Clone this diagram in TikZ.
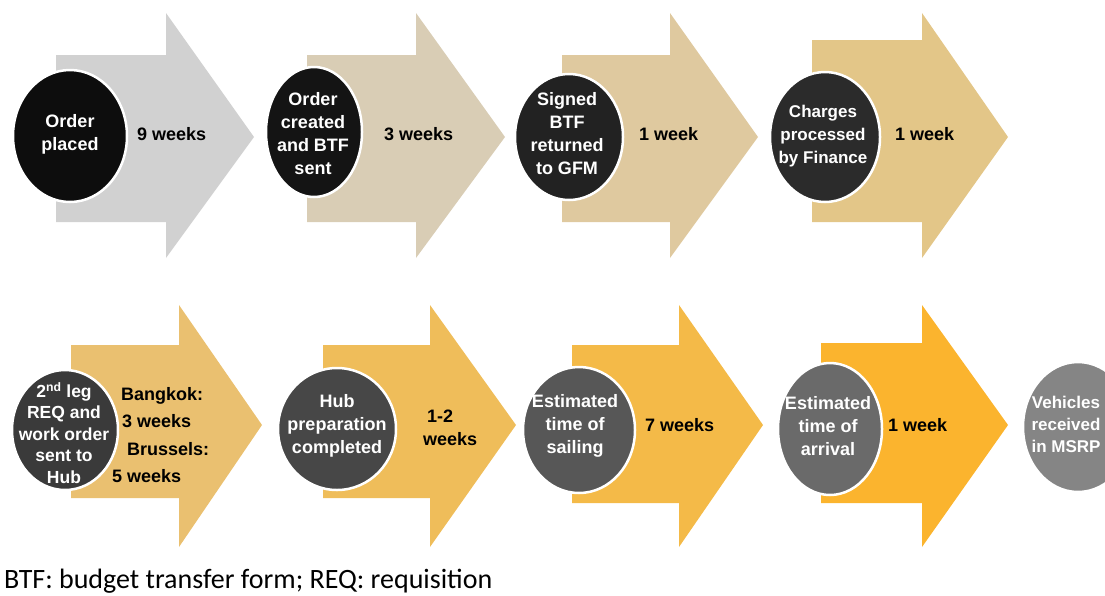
\documentclass[tikz,border=0pt]{standalone}
\usepackage{fontspec}
\setmainfont{Liberation Sans}
\newfontfamily\notefont{Carlito}

\definecolor{arrA}{HTML}{D1D1D1}
\definecolor{arrB}{HTML}{D9CDB5}
\definecolor{arrC}{HTML}{DFC99F}
\definecolor{arrD}{HTML}{E3C688}
\definecolor{arrE}{HTML}{EAC070}
\definecolor{arrF}{HTML}{EFBD5A}
\definecolor{arrG}{HTML}{F4BA48}
\definecolor{arrH}{HTML}{FBB42E}
\definecolor{dotA}{HTML}{0D0D0D}
\definecolor{dotB}{HTML}{141414}
\definecolor{dotC}{HTML}{222222}
\definecolor{dotD}{HTML}{2B2B2B}
\definecolor{dotE}{HTML}{3A3A3A}
\definecolor{dotF}{HTML}{474747}
\definecolor{dotG}{HTML}{575757}
\definecolor{dotH}{HTML}{6A6A6A}
\definecolor{dotI}{HTML}{858585}

\begin{document}
\begin{tikzpicture}[x=1pt,y=-1pt,
    ring/.style={draw=white,line width=2.5pt},
    intxt/.style={text=white,align=center,inner sep=0pt,font=\fontsize{18}{23}\selectfont\bfseries},
    wk/.style={anchor=west,align=left,inner sep=0pt,font=\fontsize{18}{23}\selectfont\bfseries}]
    \useasboundingbox (0,0) rectangle (1105,595);
    \clip (0,0) rectangle (1105,595);
    %top row
    \fill [arrA] (56,55) -- (166,55) -- (166,13) -- (254,137) -- (166,258) -- (166,222) -- (56,222) -- cycle;
    \fill [arrB] (307,55) -- (416,55) -- (416,13) -- (505,137) -- (416,258) -- (416,222) -- (307,222) -- cycle;
    \fill [arrC] (562,55) -- (670,55) -- (670,13) -- (758,137) -- (670,258) -- (670,222) -- (562,222) -- cycle;
    \fill [arrD] (812,40) -- (922,40) -- (922,13) -- (1008,137) -- (922,258) -- (922,222) -- (812,222) -- cycle;
    \filldraw [fill=dotA,ring] (70,136) ellipse [x radius=57pt,y radius=66pt];
    \filldraw [fill=dotB,ring] (314,132) ellipse [x radius=48pt,y radius=65pt];
    \filldraw [fill=dotC,ring] (569,137) ellipse [x radius=54pt,y radius=63pt];
    \filldraw [fill=dotD,ring] (825,137) ellipse [x radius=55pt,y radius=65pt];
    \node [intxt] (placed) at (70,134) {Order\\placed};
    \node [intxt] (created) at (313,134) {Order\\created\\and BTF\\sent};
    \node [intxt] (signed) at (567,134) {Signed\\BTF\\returned\\to GFM};
    \node [intxt,font=\fontsize{17}{23}\selectfont\bfseries] (charges) at (823,136) {Charges\\processed\\by Finance};
    \node [wk] (w1) at (137,134) {9 weeks};
    \node [wk] (w2) at (384,134) {3 weeks};
    \node [wk] (w3) at (639,134) {1 week};
    \node [wk] (w4) at (895,134) {1 week};
    %bottom row
    \fill [arrE] (71,345) -- (179,345) -- (179,305) -- (262,425) -- (179,547) -- (179,498) -- (71,498) -- cycle;
    \fill [arrF] (323,345) -- (430,345) -- (430,305) -- (516,425) -- (430,547) -- (430,498) -- (323,498) -- cycle;
    \fill [arrG] (572,345) -- (679,345) -- (679,305) -- (763,425) -- (679,547) -- (679,503) -- (572,503) -- cycle;
    \fill [arrH] (821,343) -- (922,343) -- (922,305) -- (1008,425) -- (922,547) -- (922,503) -- (821,503) -- cycle;
    \filldraw [fill=dotE,ring] (65,430) ellipse [x radius=53pt,y radius=60pt];
    \filldraw [fill=dotF,ring] (337,429) ellipse [x radius=59pt,y radius=61pt];
    \filldraw [fill=dotG,ring] (579,430) ellipse [x radius=56pt,y radius=63pt];
    \filldraw [fill=dotH,ring] (830,429) ellipse [x radius=52pt,y radius=66pt];
    \filldraw [fill=dotI,ring] (1078,427) ellipse [x radius=55pt,y radius=65pt];
    \node [intxt,font=\fontsize{17.5}{21.5}\selectfont\bfseries] (leg) at (64,433) {2\textsuperscript{nd} leg\\REQ and\\work order\\sent to\\Hub};
    \node [intxt] (hub) at (337,426) {Hub\\preparation\\completed};
    \node [intxt] (sailing) at (575,426) {Estimated\\time of\\sailing};
    \node [intxt] (arrival) at (828,426) {Estimated\\time of\\arrival};
    \node [intxt,font=\fontsize{17}{22}\selectfont\bfseries] (vehicles) at (1066,424) {Vehicles\\received\\in MSRP};
    \node [wk,font=\fontsize{18}{27.5}\selectfont\bfseries] (w5) at (112,435)
        {\hspace*{9pt}Bangkok:\\\hspace*{10pt}3 weeks\\\hspace*{15pt}Brussels:\\5 weeks};
    \node [wk] (w6) at (423,428) {\hspace*{4pt}1-2\\weeks};
    \node [wk] (w7) at (645,425) {7 weeks};
    \node [wk] (w8) at (888,425) {1 week};
    %key
    \node [anchor=base west,inner sep=0pt,font=\notefont\fontsize{28}{30}\selectfont] (key) at (4,588)
        {BTF: budget transfer form; REQ: requisition};
\end{tikzpicture}
\end{document}
